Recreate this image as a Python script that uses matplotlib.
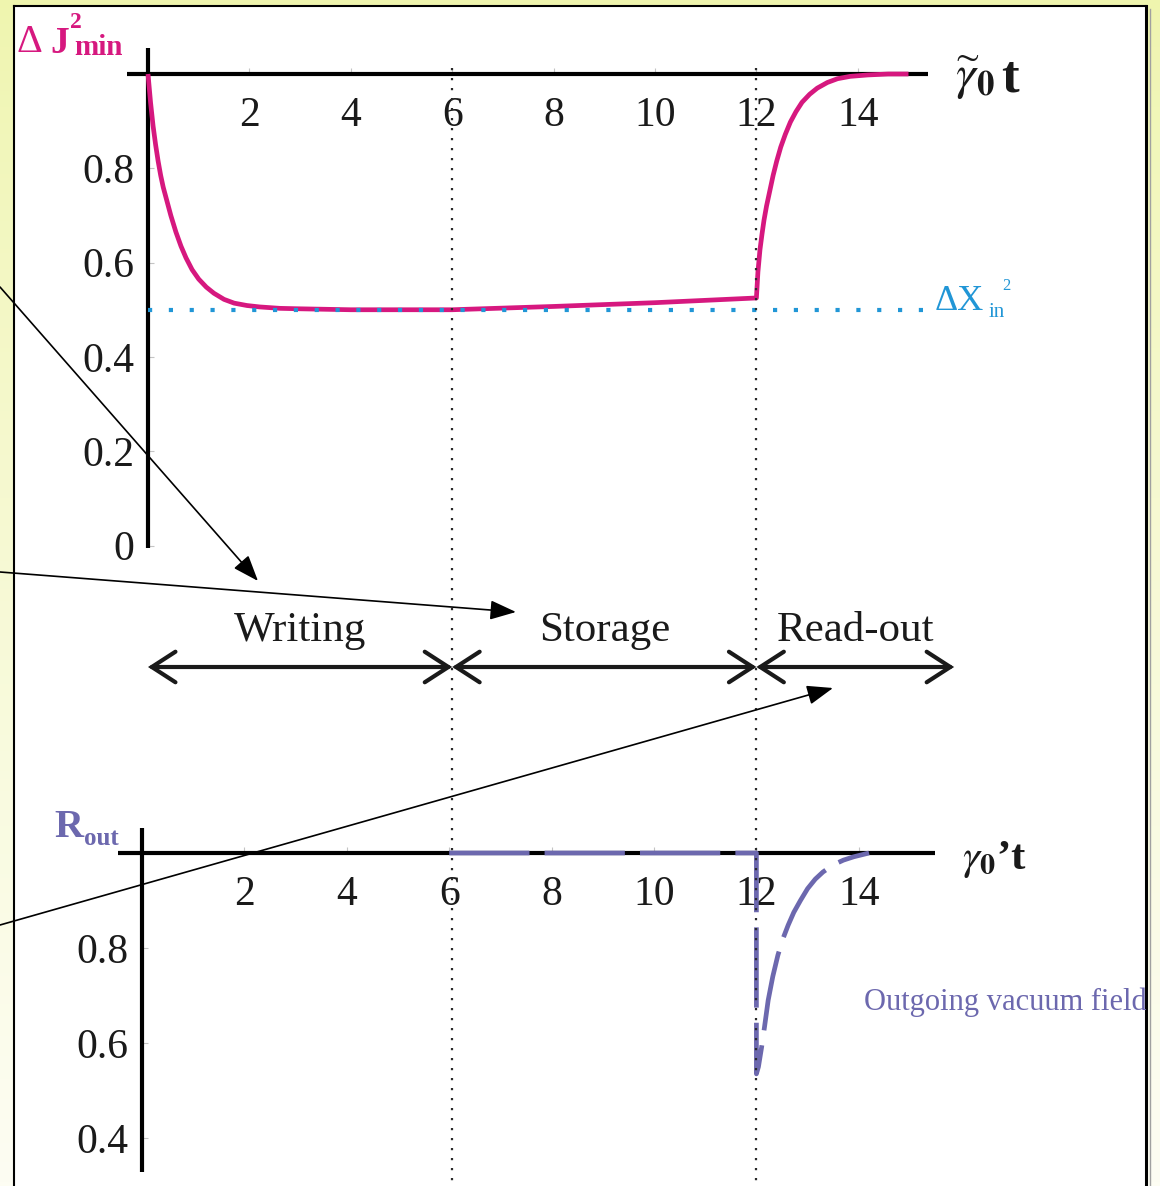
import numpy as np
import matplotlib
matplotlib.use("Agg")
import matplotlib.pyplot as plt
from matplotlib.lines import Line2D
from matplotlib.patches import FancyArrowPatch
from matplotlib.transforms import blended_transform_factory

plt.rcParams["font.family"] = ["Liberation Serif", "DejaVu Serif"]
plt.rcParams["mathtext.fontset"] = "stix"

# ---------------------------------------------------------------- data
# minimal spin variance during writing, storage and read-out
j_time = [0.0, 0.05, 0.1, 0.15, 0.2, 0.25, 0.3, 0.375, 0.45, 0.55, 0.65,
          0.75, 0.87, 1.0, 1.15, 1.3, 1.5, 1.7, 1.95, 2.2, 2.6, 3.0, 4.0,
          6.0, 8.0, 10.0,
          12.0, 12.03, 12.07, 12.11, 12.15, 12.2, 12.26, 12.33, 12.4, 12.48,
          12.57, 12.67, 12.78, 12.9, 13.05, 13.2, 13.4, 13.6, 13.85, 14.2,
          14.6, 15.0]
j_value = [1.0, 0.94, 0.89, 0.85, 0.815, 0.785, 0.76, 0.73, 0.70, 0.665,
           0.635, 0.61, 0.585, 0.565, 0.548, 0.535, 0.522, 0.514, 0.509,
           0.506, 0.503, 0.502, 0.5, 0.5, 0.507, 0.515,
           0.525, 0.58, 0.627, 0.66, 0.69, 0.72, 0.75, 0.785, 0.815, 0.845,
           0.872, 0.898, 0.92, 0.94, 0.957, 0.97, 0.982, 0.99, 0.995, 0.998,
           1.0, 1.0]

# squeezed input quadrature variance
x_in_level = 0.5
x_in_end = 15.3

# outgoing field noise
r_time = [6.0, 12.0, 12.0, 12.04, 12.1, 12.16, 12.23, 12.32, 12.42, 12.52,
          12.62, 12.73, 12.86, 13.0, 13.15, 13.3, 13.5, 13.7, 13.9, 14.2]
r_value = [1.0, 1.0, 0.535, 0.55, 0.59, 0.635, 0.69, 0.74, 0.785, 0.82,
           0.848, 0.875, 0.9, 0.925, 0.945, 0.96, 0.975, 0.985, 0.992, 1.0]

# protocol phases
phase_edges = [0.0, 6.0, 12.0, 15.9]
phase_names = ["Writing", "Storage", "Read-out"]

top_xticks = [2, 4, 6, 8, 10, 12, 14]
top_yticks = [0.0, 0.2, 0.4, 0.6, 0.8]
top_ylabels = ["0", "0.2", "0.4", "0.6", "0.8"]
bot_xticks = [2, 4, 6, 8, 10, 12, 14]
bot_yticks = [0.4, 0.6, 0.8]
bot_ylabels = ["0.4", "0.6", "0.8"]

# ---------------------------------------------------------------- style
MAGENTA = "#d6187f"
BLUE = "#2196d6"
PURPLE = "#6c68ae"
INK = "#1a1a1a"

W, H = 1160, 1186
fig = plt.figure(figsize=(W / 100, H / 100), dpi=100)


def rect(x0, y0, x1, y1):
    return [x0 / W, 1 - y1 / H, (x1 - x0) / W, (y1 - y0) / H]


def fx(x):
    return x / W


def fy(y):
    return 1 - y / H


# slide background: soft yellow gradient
bg = fig.add_axes([0, 0, 1, 1], zorder=-3)
bg.set_axis_off()
g = np.linspace(0, 1, 300)[:, None, None] ** 0.8
top_c = np.array([239, 245, 174]) / 255
bot_c = np.array([253, 253, 243]) / 255
bg.imshow(top_c * (1 - g) + bot_c * g, aspect="auto", extent=[0, 1, 0, 1],
          origin="upper")

# white panel
panel = fig.add_axes(rect(14, 6, 1146, 1200), zorder=-2)
panel.set_facecolor("white")
panel.set_xticks([])
panel.set_yticks([])
for s in panel.spines.values():
    s.set_linewidth(1.5)
    s.set_color("black")
panel.spines["right"].set_linewidth(2.2)
fig.add_artist(Line2D([fx(1149.5)] * 2, [fy(9), 0], color="#a0a0a0", lw=1.0,
                      transform=fig.transFigure, zorder=-1))


def style_axes(ax, xticks, yticks, ylabels, xpad, ypad):
    ax.patch.set_visible(False)
    for s in ("top", "right"):
        ax.spines[s].set_visible(False)
    ax.spines["left"].set_position(("data", 0))
    ax.spines["bottom"].set_position(("data", 1.0))
    for s in ("left", "bottom"):
        ax.spines[s].set_linewidth(3)
        ax.spines[s].set_color("black")
        ax.spines[s].set_capstyle("butt")
    ax.set_xticks(xticks)
    ax.set_xticklabels([str(v) for v in xticks])
    ax.set_yticks(yticks)
    ax.set_yticklabels(ylabels)
    ax.tick_params(axis="both", direction="in", length=4, width=0.8,
                   color="#c4c4c4", labelsize=30, labelcolor=INK)
    ax.tick_params(axis="x", pad=xpad)
    ax.tick_params(axis="y", pad=ypad)


# ---------------------------------------------------------------- upper plot
X0_TOP, SX_TOP, Y1_TOP, SY_TOP = 148, 50.7, 74, 471.5
ax1 = fig.add_axes(rect(127, 48, 928, 548))
ax1.set_xlim((127 - X0_TOP) / SX_TOP, (928 - X0_TOP) / SX_TOP)
ax1.set_ylim(1 - (548 - Y1_TOP) / SY_TOP, 1 + (Y1_TOP - 48) / SY_TOP)
style_axes(ax1, top_xticks, top_yticks, top_ylabels, 16, 10)

ax1.plot(j_time, j_value, color=MAGENTA, lw=3.4, solid_capstyle="butt",
         solid_joinstyle="round", zorder=3, clip_on=False)
ax1.plot([0, x_in_end], [x_in_level, x_in_level], color=BLUE, lw=3,
         linestyle=(0, (1, 4)), dash_capstyle="butt", zorder=4, clip_on=False)

# ---------------------------------------------------------------- lower plot
X0_BOT, SX_BOT, Y1_BOT, SY_BOT = 142, 51.2, 853, 475
ax2 = fig.add_axes(rect(118, 828, 935, 1172))
ax2.set_xlim((118 - X0_BOT) / SX_BOT, (935 - X0_BOT) / SX_BOT)
ax2.set_ylim(1 - (1172 - Y1_BOT) / SY_BOT, 1 + (Y1_BOT - 828) / SY_BOT)
style_axes(ax2, bot_xticks, bot_yticks, bot_ylabels, 16, 10)

ax2.plot(r_time, r_value, color=PURPLE, lw=3.4, linestyle=(0, (17, 3.2)),
         dash_capstyle="butt", zorder=3, clip_on=False)

# ---------------------------------------------------------------- phases
phase_tr = blended_transform_factory(ax1.transData, fig.transFigure)

for edge in phase_edges[1:3]:
    fig.add_artist(Line2D([edge, edge], [fy(68), 0], transform=phase_tr,
                          color="#2a2a2a", lw=1.6, linestyle=(0, (1, 3.5)),
                          dash_capstyle="butt", zorder=2))

for a, b, name in zip(phase_edges[:-1], phase_edges[1:], phase_names):
    ax1.annotate("", xy=(b, fy(667)), xytext=(a, fy(667)),
                 xycoords=phase_tr, textcoords=phase_tr, annotation_clip=False,
                 arrowprops=dict(arrowstyle="<->,head_length=1.7,head_width=1.1",
                                 lw=3, color=INK, shrinkA=0, shrinkB=0,
                                 mutation_scale=10, joinstyle="miter"))
    ax1.text((a + b) / 2, fy(641), name, transform=phase_tr, ha="center",
             va="baseline", fontsize=31, color=INK)

# ---------------------------------------------------------------- labels
fig.text(fx(16), fy(52), "Δ", fontsize=29, color=MAGENTA, va="baseline")
fig.text(fx(50), fy(53), "J", fontsize=27, color=MAGENTA, va="baseline",
         fontweight="bold")
fig.text(fx(70), fy(28), "2", fontsize=17, color=MAGENTA, va="baseline",
         fontweight="bold")
fig.text(fx(74), fy(55), "min", fontsize=21, color=MAGENTA, va="baseline",
         fontweight="bold")

fig.text(fx(955), fy(90), r"$\widetilde{\gamma}_{\mathbf{0}}$", fontsize=36,
         color=INK, va="baseline")
fig.text(fx(1001), fy(92), "t", fontsize=38, color=INK, va="baseline",
         fontweight="bold")

fig.text(fx(935), fy(310), "ΔX", fontsize=26, color=BLUE, va="baseline")
fig.text(fx(989), fy(317), "in", fontsize=15, color=BLUE, va="baseline")
fig.text(fx(1002), fy(290), "2", fontsize=12, color=BLUE, va="baseline")

fig.text(fx(54), fy(837), "R", fontsize=29, color=PURPLE, va="baseline",
         fontweight="bold")
fig.text(fx(84), fy(845), "out", fontsize=18, color=PURPLE, va="baseline",
         fontweight="bold")

fig.text(fx(962), fy(869), r"$\gamma_{\mathbf{0}}$’t", fontsize=31,
         color=INK, va="baseline", fontweight="bold")

panel.text(fx(864), fy(1010), "Outgoing vacuum field", fontsize=22,
           color=PURPLE, va="baseline", transform=fig.transFigure,
           clip_on=True)

# pointer arrows entering from the left margin
pointers = [((0, 287), (258, 581)),
            ((0, 572), (516, 612)),
            ((0, 925), (833, 688))]
for (xa, ya), (xb, yb) in pointers:
    fig.add_artist(FancyArrowPatch((fx(xa), fy(ya)), (fx(xb), fy(yb)),
                                   transform=fig.transFigure,
                                   arrowstyle="-|>,head_length=1.6,head_width=0.6",
                                   mutation_scale=10, lw=1.2, color="black",
                                   shrinkA=0, shrinkB=0, zorder=5))

fig.savefig("out.png", dpi=100)
